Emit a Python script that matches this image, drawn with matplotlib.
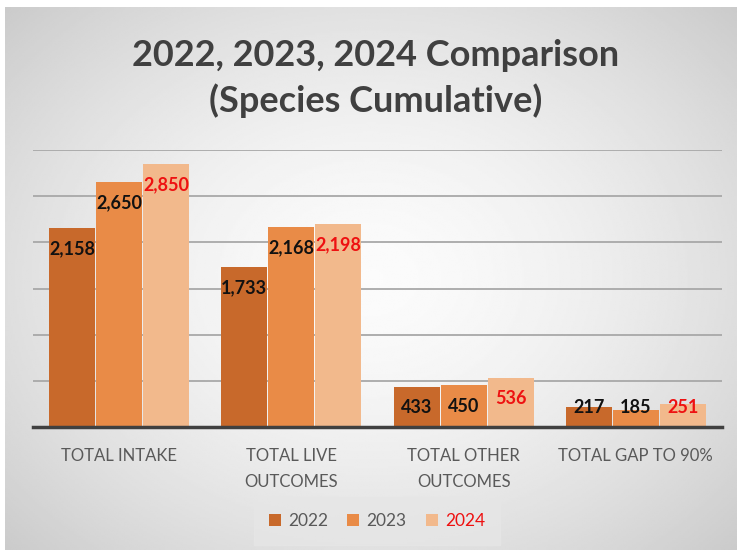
import numpy as np
import matplotlib.pyplot as plt

# data
categories = ['TOTAL INTAKE', 'TOTAL LIVE\nOUTCOMES', 'TOTAL OTHER\nOUTCOMES', 'TOTAL GAP TO 90%']
years = ['2022', '2023', '2024']
vals_2022 = [2158, 1733, 433, 217]
vals_2023 = [2650, 2168, 450, 185]
vals_2024 = [2850, 2198, 536, 251]

bar_colors = ['#C8692B', '#E98B47', '#F2B98C']
label_colors = ['#111111', '#111111', '#EE1111']
yticks = [0, 500, 1000, 1500, 2000, 2500, 3000]

plt.rcParams['font.family'] = ['Lato', 'DejaVu Sans']

fig = plt.figure(figsize=(7.37, 5.5), dpi=100)
fig.patch.set_facecolor('white')

# radial gray background like the slide
bg = fig.add_axes([5 / 737, 0, 1 - 5 / 737, 1 - 7 / 550])
yy, xx = np.mgrid[-1:1:300j, -1:1:400j]
r = np.sqrt((xx * 0.95) ** 2 + (yy * 0.9) ** 2)
shade = 0.985 - 0.2 * np.clip(r / 1.35, 0, 1) ** 1.6
bg.imshow(shade, cmap='gray', vmin=0, vmax=1, aspect='auto', extent=[0, 1, 0, 1])
bg.axis('off')

ax = fig.add_axes([33 / 737, 1 - 427 / 550, (722 - 33) / 737, (427 - 150) / 550])
ax.patch.set_alpha(0)

x = np.arange(len(categories)) + 0.5
w = 0.266
step = 0.273
series = [vals_2022, vals_2023, vals_2024]
for i, vals in enumerate(series):
    pos = x + (i - 1) * step
    ax.bar(pos, vals, width=w, color=bar_colors[i], label=years[i], zorder=3)
    for px, v in zip(pos, vals):
        ty = max(v - 225, 215)
        ax.text(px, ty, f'{v:,}', ha='center', va='center', fontsize=13,
                fontweight='bold', color=label_colors[i], zorder=4)

ax.set_xlim(0, 4)
ax.set_ylim(0, 3000)
ax.set_yticks(yticks)
ax.set_yticklabels([])
ax.tick_params(axis='y', length=0)
ax.tick_params(axis='x', length=0, pad=15)
ax.set_xticks(x)
ax.set_xticklabels(categories, fontsize=12, color='#595959', linespacing=1.75)
ax.grid(axis='y', color='#A8A8A8', linewidth=1.3, zorder=1)
for s in ['top', 'right', 'left']:
    ax.spines[s].set_visible(False)
ax.spines['bottom'].set_color('#404040')
ax.spines['bottom'].set_linewidth(2.5)
ax.spines['bottom'].set_zorder(5)

fig.text(0.51, 1 - 55 / 550, '2022, 2023, 2024 Comparison', ha='center', va='center',
         fontsize=26, fontweight='bold', color='#404040')
fig.text(0.51, 1 - 101 / 550, '(Species Cumulative)', ha='center', va='center',
         fontsize=26, fontweight='bold', color='#404040')

leg = fig.legend(loc='center', bbox_to_anchor=(377 / 737, 1 - 521 / 550), ncol=3,
                 frameon=True, fontsize=12.5, handlelength=0.7, handleheight=0.7,
                 handletextpad=0.4, columnspacing=1.1, borderpad=0.6)
leg.get_frame().set_facecolor('#E6E6E6')
leg.get_frame().set_edgecolor('#E6E6E6')
leg.get_frame().set_boxstyle('square')
for t, c in zip(leg.get_texts(), ['#595959', '#595959', '#EE1111']):
    t.set_color(c)

fig.savefig('out.png', dpi=100)
